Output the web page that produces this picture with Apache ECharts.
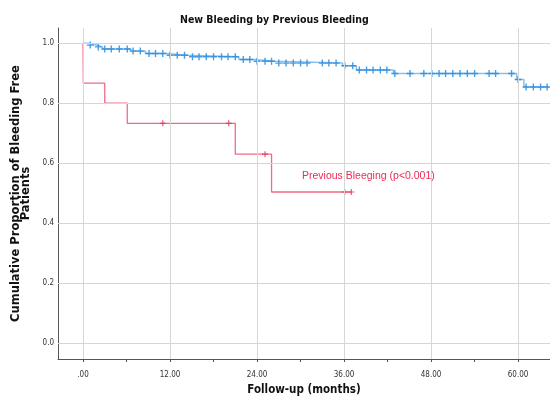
<!DOCTYPE html>
<html>
<head>
<meta charset="utf-8">
<script src="https://cdn.jsdelivr.net/npm/echarts@6/dist/echarts.min.js"></script>
<style>html,body{margin:0;padding:0;background:#fff}#c{width:550px;height:409px}</style>
</head>
<body>
<div id="c"></div>
<script>
// ---- data ----
const xTickLabels = [0, 12, 24, 36, 48, 60];
const xMinorTicks = [0, 6, 12, 18, 24, 30, 36, 42, 48, 54, 60];
const yTickLabels = [0, 0.2, 0.4, 0.6, 0.8, 1.0];

// [time (months), cumulative proportion after drop]
const blueSteps = [[0,1.0],[0.7,0.994],[1.8,0.988],[2.7,0.981],[6.6,0.974],[8.6,0.966],[11.5,0.960],[14.5,0.955],[21.5,0.946],[23.6,0.940],[26.5,0.934],[35.8,0.925],[37.7,0.911],[42.8,0.899],[59.8,0.879],[60.8,0.854]];
const blueEnd = 64.2;
const blueCensor = [1.0,2.1,3.0,3.9,5.0,6.1,6.9,7.9,9.1,10.0,11.0,12.0,13.0,14.0,15.1,16.0,17.0,18.0,19.1,20.0,21.0,22.1,23.0,24.0,25.1,26.0,27.0,28.0,29.0,30.0,30.9,33.0,33.9,34.9,36.1,37.2,38.1,39.1,40.0,41.0,41.9,43.0,45.1,47.0,48.1,49.1,50.0,51.0,52.0,53.0,54.0,56.0,56.9,59.1,60.0,61.1,62.1,63.1,64.0];

const redSteps = [[0,1.0],[0.05,0.867],[3.0,0.800],[6.1,0.733],[21.0,0.630],[26.0,0.504]];
const redEnd = 37.0;
const redCensor = [11.0, 20.1, 25.1, 36.1, 37.0];

const redLabel = 'Previous Bleeging (p<0.001)';

// ---- build ----
function lineData(steps, end) {
  return steps.concat([[end, steps[steps.length - 1][1]]]);
}
function censorData(steps, times) {
  return times.map(t => {
    let v = steps[0][1];
    for (const s of steps) if (s[0] <= t) v = s[1];
    return [t, v];
  });
}
const plus = 'path://M4,0h2v4h4v2h-4v4h-2v-4h-4v-2h4z';
const axisColor = '#555';
const gridColor = '#d6d6d6';
const narrow = '"DejaVu Sans Condensed", "Liberation Sans Narrow", "Liberation Sans", sans-serif';

const chart = echarts.init(document.getElementById('c'), null, {renderer: 'canvas'});
chart.setOption({
  animation: false,
  backgroundColor: '#fff',
  title: {
    text: 'New Bleeding by Previous Bleeding',
    left: 175, top: 10,
    textStyle: {fontFamily: narrow, fontWeight: 'bold', fontSize: 10.5, color: '#111'}
  },
  grid: {left: 58, right: 0, top: 28, bottom: 50, containLabel: false},
  xAxis: {
    type: 'value', min: -3.45, max: 64.4,
    name: 'Follow-up (months)', nameLocation: 'middle', nameGap: 25,
    nameTextStyle: {fontFamily: narrow, fontWeight: 'bold', fontSize: 11.5, color: '#111'},
    axisLine: {show: true, onZero: false, lineStyle: {color: axisColor, width: 1}},
    axisTick: {show: true, customValues: xMinorTicks, length: 3, lineStyle: {color: axisColor}},
    axisLabel: {customValues: xTickLabels, margin: 12, fontSize: 8, color: '#333', fontFamily: narrow,
      formatter: v => v === 0 ? '.00' : v.toFixed(2)},
    splitLine: {show: false}
  },
  yAxis: {
    type: 'value', min: -0.053, max: 1.051,
    name: 'Cumulative Proportion of Bleeding Free\nPatients', nameLocation: 'middle', nameGap: 19,
    nameTextStyle: {fontFamily: '"DejaVu Sans", sans-serif', fontWeight: 'bold', fontSize: 11.5, color: '#111', lineHeight: 10},
    axisLine: {show: true, onZero: false, lineStyle: {color: axisColor, width: 1}},
    axisTick: {show: false},
    axisLabel: {customValues: yTickLabels, margin: 4, fontSize: 8, color: '#333', fontFamily: narrow,
      formatter: v => v.toFixed(1)},
    splitLine: {show: false}
  },
  graphic: [{
    type: 'text', left: 302, top: 171, z: 10,
    style: {text: redLabel, fill: '#ee2a55', font: '10.5px "Liberation Sans"'}
  }],
  series: [
    {
      type: 'line', data: [], z: 1, silent: true,
      markLine: {
        silent: true, symbol: 'none', label: {show: false},
        lineStyle: {color: gridColor, type: 'solid', width: 1},
        data: xTickLabels.map(v => ({xAxis: v})).concat(yTickLabels.map(v => ({yAxis: v})))
      }
    },
    {
      type: 'line', step: 'end', data: lineData(blueSteps, blueEnd), z: 3,
      showSymbol: false, lineStyle: {color: '#86c2f0', width: 1.5}
    },
    {
      type: 'scatter', data: censorData(blueSteps, blueCensor), z: 4,
      symbol: plus, symbolSize: 7, itemStyle: {color: '#1f86dc'}
    },
    {
      type: 'line', step: 'end', data: lineData(redSteps, redEnd), z: 3,
      showSymbol: false, lineStyle: {color: '#f06a88', width: 1.3}
    },
    {
      type: 'scatter', data: censorData(redSteps, redCensor), z: 4,
      symbol: plus, symbolSize: 6, itemStyle: {color: '#ea2a56'}
    }
  ]
});
</script>
</body>
</html>
